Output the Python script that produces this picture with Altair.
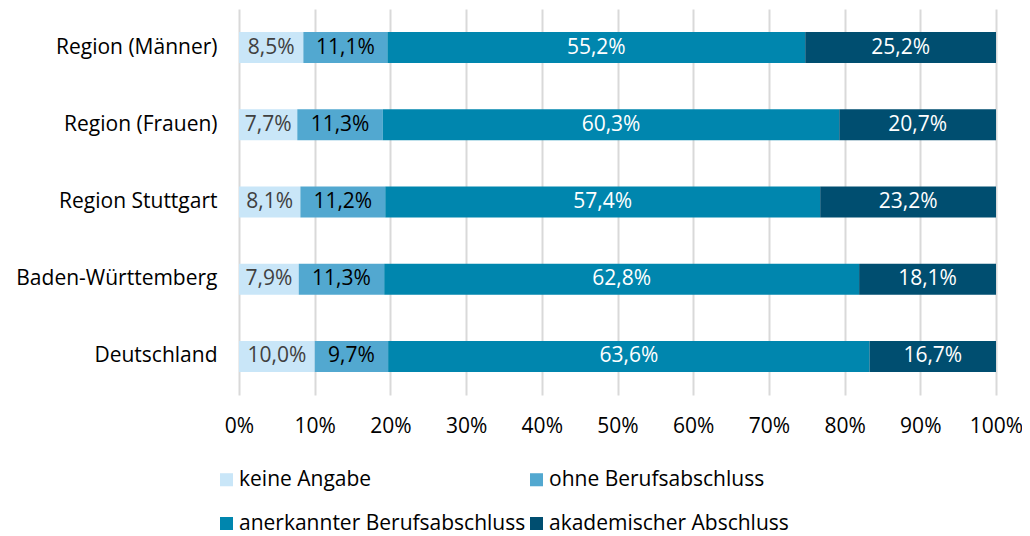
import altair as alt
import pandas as pd

regions = ["Region (Männer)", "Region (Frauen)", "Region Stuttgart", "Baden-Württemberg", "Deutschland"]
categories = ["keine Angabe", "ohne Berufsabschluss", "anerkannter Berufsabschluss", "akademischer Abschluss"]
colors = ["#C9E6F8", "#52A8D0", "#0086AE", "#004E70"]
text_colors = ["#404040", "#000000", "#FFFFFF", "#FFFFFF"]

keine = [8.5, 7.7, 8.1, 7.9, 10.0]
ohne = [11.1, 11.3, 11.2, 11.3, 9.7]
anerkannt = [55.2, 60.3, 57.4, 62.8, 63.6]
akademisch = [25.2, 20.7, 23.2, 18.1, 16.7]

series = [keine, ohne, anerkannt, akademisch]
rows = []
for ci, (cat, vals) in enumerate(zip(categories, series)):
    for ri, reg in enumerate(regions):
        rows.append({"region": reg, "cat": cat, "order": ci, "value": vals[ri],
                     "label": f"{vals[ri]:.1f}%".replace(".", ","), "tcolor": text_colors[ci]})
df = pd.DataFrame(rows)

FONT = "Open Sans"
FS = 21

base = alt.Chart(df).transform_stack(
    stack="value", groupby=["region"], sort=[alt.SortField("order")],
    offset="normalize", as_=["x0", "x1"]
).transform_calculate(mid="(datum.x0 + datum.x1) / 2")

y = alt.Y("region:N", sort=regions, title=None,
          axis=alt.Axis(domain=False, ticks=False, labelFont=FONT, labelFontSize=FS,
                        labelColor="#000000", labelPadding=22, grid=False, labelLimit=400),
          scale=alt.Scale(paddingInner=0.6, paddingOuter=0.3))

bars = base.mark_bar(size=31).encode(
    x=alt.X("x0:Q", title=None, scale=alt.Scale(domain=[0, 1], nice=False),
            axis=alt.Axis(format=".0%", values=[i / 10 for i in range(11)], domain=False,
                          ticks=False, grid=True, gridColor="#D9D9D9", gridWidth=2,
                          labelFont=FONT, labelFontSize=FS, labelColor="#000000",
                          labelPadding=20, labelFlush=False, labelOverlap=False)),
    x2="x1:Q",
    y=y,
    color=alt.Color("cat:N", sort=categories,
                    scale=alt.Scale(domain=categories, range=colors),
                    legend=alt.Legend(title=None, orient="none", legendX=-23, legendY=460,
                                      direction="horizontal", columns=2, symbolType="square",
                                      symbolSize=170, symbolStrokeWidth=0, labelFont=FONT,
                                      labelFontSize=FS, labelColor="#000000", labelOffset=2,
                                      rowPadding=22, columnPadding=0, labelLimit=400)),
)

texts = base.mark_text(font=FONT, fontSize=FS, baseline="middle", align="center").encode(
    x=alt.X("mid:Q"),
    y=y,
    text="label:N",
    color=alt.Color("tcolor:N", scale=None),
)

chart = alt.layer(bars, texts).properties(
    width=757, height=386,
    autosize=alt.AutoSizeParams(type="none"),
    padding={"left": 231, "top": 1, "right": 26, "bottom": 140},
).configure_view(stroke=None)

chart.save("out.html", embed_options={"renderer": "svg", "actions": False})
